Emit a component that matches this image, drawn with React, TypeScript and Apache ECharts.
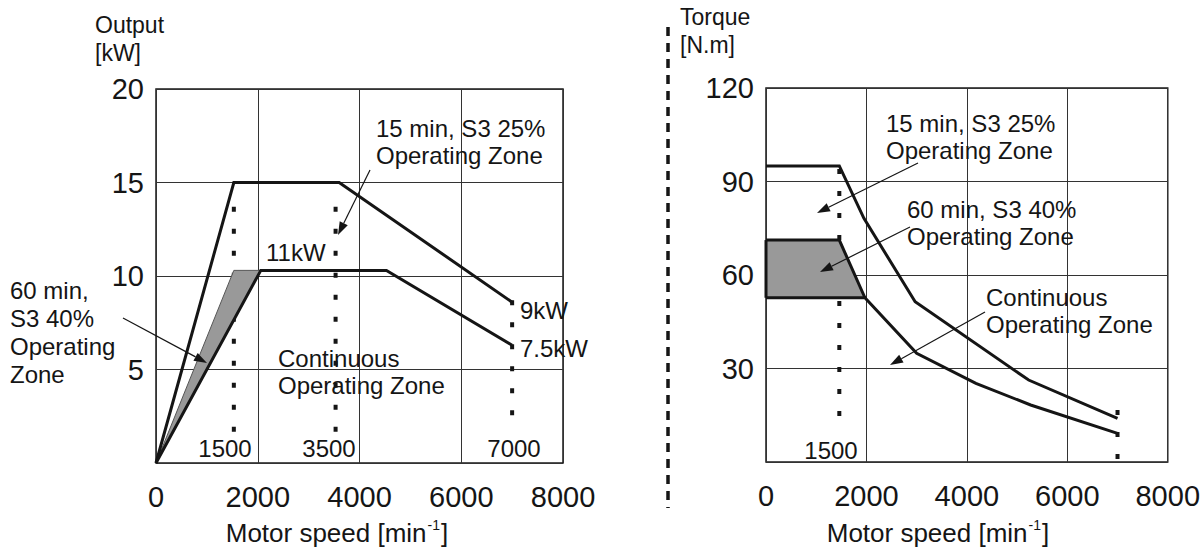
import React, { useEffect, useRef } from 'react';
import * as echarts from 'echarts';

// ---- axes ----
const speedTicks = [0, 2000, 4000, 6000, 8000];
const outputTicks = [0, 5, 10, 15, 20];
const torqueTicks = [0, 30, 60, 90, 120];

// ---- Output [kW] vs motor speed ----
const output15min = [[0, 0], [1530, 15], [3600, 15], [7000, 8.6]];
const outputContinuous = [[0, 0], [2060, 10.3], [4530, 10.3], [7000, 6.3]];
const output60minZone = [[0, 0], [1530, 10.3], [2060, 10.3]];
const outputMark1500 = [[1530, 13.7], [1530, 1.6]];
const outputMark3500 = [[3530, 13.7], [3530, 1.6]];
const outputMark7000 = [[7000, 8.7], [7000, 2.3]];

// ---- Torque [N.m] vs motor speed ----
const torque15min = [[0, 95], [1460, 95], [1950, 78.2], [2970, 51.4], [5230, 26.3], [7000, 14]];
const torque60min = [[0, 71.2], [1460, 71.2], [1970, 52.7]];
const torqueContinuous = [[0, 52.7], [1970, 52.7], [3000, 34.9], [4180, 25.2], [5270, 18.3], [7000, 9.2]];
const torque60minZone = [[0, 71.2], [1460, 71.2], [1970, 52.7], [0, 52.7]];
const torque60minEdge = [[0, 52.7], [0, 71.2]];
const torqueMark1500 = [[1460, 94], [1460, 13.5]];
const torqueMark7000 = [[7000, 16.7], [7000, 1]];

const FONT = '"Liberation Sans", Arial, Helvetica, sans-serif';
const INK = '#151515';

function text(str: string, x: number, y: number, size: number, align = 'left', lineHeight?: number) {
  return {
    type: 'text',
    z: 100,
    style: {
      text: str,
      x,
      y,
      fontSize: size,
      fontFamily: FONT,
      fill: INK,
      align,
      textAlign: align,
      verticalAlign: 'middle',
      textVerticalAlign: 'middle',
      lineHeight: lineHeight || Math.round(size * 1.2),
    },
  };
}

function arrow(x1: number, y1: number, x2: number, y2: number) {
  const ang = Math.atan2(y2 - y1, x2 - x1);
  const L = 13;
  const W = 4.5;
  const bx = x2 - L * Math.cos(ang);
  const by = y2 - L * Math.sin(ang);
  const px = -Math.sin(ang) * W;
  const py = Math.cos(ang) * W;
  return [
    { type: 'line', z: 100, shape: { x1, y1, x2: bx, y2: by }, style: { stroke: INK, lineWidth: 1.2 } },
    {
      type: 'polygon',
      z: 100,
      shape: { points: [[x2, y2], [bx + px, by + py], [bx - px, by - py]] },
      style: { fill: INK },
    },
  ];
}

function axisName(x: number, y: number) {
  return {
    type: 'text',
    z: 100,
    style: {
      text: '{n|Motor speed [min}{s|-1}{n|]}',
      x,
      y,
      align: 'center',
      textAlign: 'center',
      verticalAlign: 'middle',
      textVerticalAlign: 'middle',
      fill: INK,
      rich: {
        n: { fontSize: 26, fontFamily: FONT, fill: INK, lineHeight: 30, verticalAlign: 'middle' },
        s: { fontSize: 14, fontFamily: FONT, fill: INK, lineHeight: 30, verticalAlign: 'top', padding: [0, 1, 12, 1] },
      },
    },
  };
}

function lineSeries(data: number[][], gi: number, width = 3, type: any = 'solid', z = 4) {
  return {
    type: 'line',
    xAxisIndex: gi,
    yAxisIndex: gi,
    data,
    symbol: 'none',
    showSymbol: false,
    clip: false,
    silent: true,
    z,
    lineStyle: { color: INK, width, type, cap: 'butt', join: 'miter' },
  };
}

function zoneSeries(poly: number[][], gi: number, stroke: string, lw: number) {
  return {
    type: 'custom',
    xAxisIndex: gi,
    yAxisIndex: gi,
    data: poly,
    silent: true,
    z: 3,
    clip: false,
    renderItem: (params: any, api: any) => {
      if (params.dataIndex !== 0) return null;
      return {
        type: 'polygon',
        shape: { points: poly.map((p) => api.coord(p)) },
        style: { fill: '#999999', stroke, lineWidth: lw },
      };
    },
  };
}

function makeAxis(ticks: number[], gi: number, isX: boolean) {
  return {
    gridIndex: gi,
    type: 'value',
    min: ticks[0],
    max: ticks[ticks.length - 1],
    interval: ticks[1] - ticks[0],
    axisLine: { show: false },
    axisTick: { show: false },
    splitLine: { show: true, lineStyle: { color: '#333', width: 1 } },
    axisLabel: {
      show: true,
      showMinLabel: isX,
      fontSize: 29,
      fontFamily: FONT,
      color: INK,
      margin: isX ? 19 : 12,
      formatter: (v: number) => String(v),
    },
  };
}

export default function App() {
  const ref = useRef<HTMLDivElement>(null);

  useEffect(() => {
    document.body.style.margin = '0';
    const chart = echarts.init(ref.current!, null, { renderer: 'svg' });
    const option: any = {
      animation: false,
      backgroundColor: '#ffffff',
      grid: [
        { left: 156, top: 89, width: 407, height: 374, show: true, borderColor: '#1a1a1a', borderWidth: 1.5 },
        { left: 766, top: 88, width: 406, height: 374, show: true, borderColor: '#1a1a1a', borderWidth: 1.5 },
      ],
      xAxis: [makeAxis(speedTicks, 0, true), makeAxis(speedTicks, 1, true)],
      yAxis: [makeAxis(outputTicks, 0, false), makeAxis(torqueTicks, 1, false)],
      series: [
        // left
        lineSeries(outputMark1500, 0, 4, [5, 17], 2),
        lineSeries(outputMark3500, 0, 4, [5, 17], 2),
        lineSeries(outputMark7000, 0, 4, [5, 17], 2),
        zoneSeries(output60minZone, 0, '#555', 1),
        lineSeries(output15min, 0),
        lineSeries(outputContinuous, 0),
        // right
        lineSeries(torqueMark1500, 1, 4, [5, 17], 2),
        lineSeries(torqueMark7000, 1, 4, [5, 17], 2),
        zoneSeries(torque60minZone, 1, INK, 0),
        lineSeries(torque60min, 1),
        lineSeries(torque60minEdge, 1),
        lineSeries(torque15min, 1),
        lineSeries(torqueContinuous, 1),
      ],
      graphic: [
        // separator
        {
          type: 'line',
          z: 100,
          shape: { x1: 668, y1: 27, x2: 668, y2: 508 },
          style: { stroke: INK, lineWidth: 3.5, lineDash: [9, 7] },
        },
        // left chart
        text('Output\n[kW]', 95, 39, 23, 'left', 28),
        text('15 min, S3 25%\nOperating Zone', 376, 142, 24, 'left', 27),
        ...arrow(370, 170, 338, 235),
        text('11kW', 266, 252, 24),
        text('9kW', 520, 310, 24),
        text('7.5kW', 520, 348, 24),
        text('Continuous\nOperating Zone', 278, 371.5, 24, 'left', 27),
        text('1500', 225, 448, 24, 'center'),
        text('3500', 329, 448, 24, 'center'),
        text('7000', 514, 448, 24, 'center'),
        text('60 min,\nS3 40%\nOperating\nZone', 10, 332.5, 24, 'left', 28.3),
        ...arrow(123, 318, 207, 363),
        axisName(337, 533),
        // right chart
        text('Torque\n[N.m]', 680, 31, 23, 'left', 28),
        text('15 min, S3 25%\nOperating Zone', 886, 137, 24, 'left', 27),
        ...arrow(918, 163, 817, 213),
        text('60 min, S3 40%\nOperating Zone', 907, 223, 24, 'left', 27),
        ...arrow(910, 227, 820, 272),
        text('Continuous\nOperating Zone', 986, 311, 24, 'left', 27),
        ...arrow(985, 312, 890, 365),
        text('1500', 831, 450, 24, 'center'),
        axisName(938, 533),
      ],
    };
    chart.setOption(option);
    return () => chart.dispose();
  }, []);

  return <div ref={ref} style={{ width: 1203, height: 552 }} />;
}
